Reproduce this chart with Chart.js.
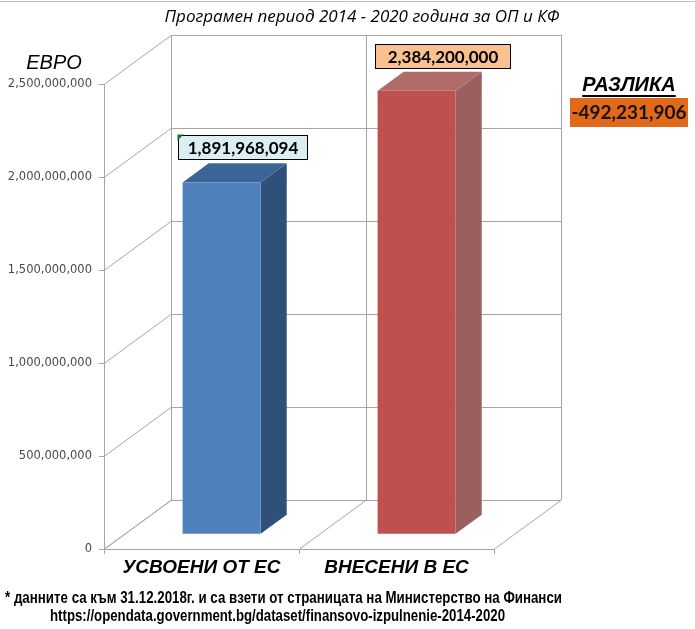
<!DOCTYPE html>
<html lang="bg">
<head>
<meta charset="UTF-8" />
<title>Програмен период 2014 - 2020</title>
<script src="https://cdn.jsdelivr.net/npm/chart.js"></script>
<style>
  body { margin: 0; background: #fff; }
  canvas { display: block; }
</style>
</head>
<body>
<canvas id="chart" width="695" height="629"></canvas>
<script>
// data
const categories = ['УСВОЕНИ ОТ ЕС', 'ВНЕСЕНИ В ЕС'];
const amounts = [1891968094, 2384200000];
const yTicks = [0, 500000000, 1000000000, 1500000000, 2000000000, 2500000000];

const title = 'Програмен период 2014 - 2020 година за ОП и КФ';
const unitLabel = 'ЕВРО';
const diffLabel = 'РАЗЛИКА';
const note1 = '* данните са към 31.12.2018г. и са взети от страницата на Министерство на Финанси';
const note2 = 'https://opendata.government.bg/dataset/finansovo-izpulnenie-2014-2020';

const faceColors = [
  { front: '#4f81bd', top: '#3d6497', side: '#2f5079', label: '#dbeef4' },
  { front: '#c0504d', top: '#b06b6b', side: '#9a5f5f', label: '#fac090' }
];
const gridColor = '#a6a6a6';

// 3d depth of the plot box (pixels) and where the bars sit inside it
const DX = 67, DY = -49;
const T0 = 0.3, T1 = 0.69;

function fmt(v) { return v.toLocaleString('en-US'); }

function line(ctx, x1, y1, x2, y2) {
  ctx.beginPath();
  ctx.moveTo(x1, y1);
  ctx.lineTo(x2, y2);
  ctx.stroke();
}

function poly(ctx, pts, fill) {
  ctx.beginPath();
  ctx.moveTo(pts[0][0], pts[0][1]);
  for (let i = 1; i < pts.length; i++) ctx.lineTo(pts[i][0], pts[i][1]);
  ctx.closePath();
  ctx.fillStyle = fill;
  ctx.fill();
}

// text squeezed to a given width (narrow font is not installed)
function narrowText(ctx, txt, x, y, w) {
  const tw = ctx.measureText(txt).width;
  ctx.save();
  ctx.translate(x, y);
  ctx.scale(w / tw, 1);
  ctx.textAlign = 'left';
  ctx.fillText(txt, 0, 0);
  ctx.restore();
}

const box3d = {
  id: 'box3d',
  beforeDatasetsDraw(chart) {
    const { ctx, chartArea: a, scales: { x, y } } = chart;
    ctx.save();
    ctx.strokeStyle = gridColor;
    ctx.lineWidth = 1;
    const topY = y.getPixelForValue(y.max);
    const botY = y.getPixelForValue(0);
    // side wall diagonals + back wall horizontals
    y.ticks.forEach(t => {
      const py = Math.round(y.getPixelForValue(t.value)) + 0.5;
      line(ctx, a.left, py, a.left + DX, py + DY);
      line(ctx, a.left + DX, py + DY, a.right + DX, py + DY);
    });
    // category boundaries on back wall and floor
    const bounds = [a.left];
    for (let i = 1; i < categories.length; i++) {
      bounds.push((x.getPixelForValue(i - 1) + x.getPixelForValue(i)) / 2);
    }
    bounds.push(a.right);
    bounds.forEach(b => {
      const bx = Math.round(b) + 0.5;
      line(ctx, bx + DX, topY + DY, bx + DX, botY + DY);
      line(ctx, bx, botY, bx + DX, botY + DY);
    });
    ctx.restore();
  },
  afterDatasetsDraw(chart) {
    const { ctx } = chart;
    const meta = chart.getDatasetMeta(0);
    ctx.save();
    meta.data.forEach((el, i) => {
      const p = el.getProps(['x', 'y', 'base', 'width'], true);
      const c = faceColors[i];
      const l = p.x - p.width / 2 + T0 * DX;
      const r = l + p.width;
      const t = p.y + T0 * DY;
      const b = p.base + T0 * DY;
      const dx = (T1 - T0) * DX, dy = (T1 - T0) * DY;
      poly(ctx, [[r, t], [r + dx, t + dy], [r + dx, b + dy], [r, b]], c.side);
      poly(ctx, [[l, t], [l + dx, t + dy], [r + dx, t + dy], [r, t]], c.top);
      poly(ctx, [[l, t], [r, t], [r, b], [l, b]], c.front);

      // value label box
      ctx.font = 'bold 17px Lato, "Open Sans", sans-serif';
      const txt = fmt(amounts[i]);
      const tw = ctx.measureText(txt).width;
      const bx = Math.round(l - 5 + i * 2) + 0.5;
      const bw = Math.round(tw + 18 + i * 6);
      const bh = 24;
      const by = Math.round(t + dy - 4 - bh) + 0.5;
      ctx.fillStyle = c.label;
      ctx.fillRect(bx, by, bw, bh);
      ctx.strokeStyle = '#000';
      ctx.lineWidth = 1;
      ctx.strokeRect(bx, by, bw, bh);
      if (i === 0) { // little green corner mark of the source sheet
        poly(ctx, [[bx - 1, by - 1], [bx + 5, by - 1], [bx - 1, by + 5]], '#1e6b2a');
      }
      ctx.fillStyle = '#000';
      ctx.textAlign = 'center';
      ctx.textBaseline = 'middle';
      ctx.fillText(txt, bx + bw / 2, by + bh / 2 + 1);
    });
    ctx.restore();
  },
  afterDraw(chart) {
    const { ctx } = chart;
    ctx.save();
    // frame line at the top
    ctx.strokeStyle = '#c0c0c0';
    line(ctx, 0, 1.5, 695, 1.5);

    ctx.fillStyle = '#000';
    ctx.textBaseline = 'middle';
    ctx.textAlign = 'center';
    ctx.font = 'italic 17px "Open Sans", "Liberation Sans", sans-serif';
    ctx.fillText(title, 362, 17);

    ctx.font = 'italic 20px "Liberation Sans", sans-serif';
    ctx.fillText(unitLabel, 54, 63);

    // difference between the two bars
    ctx.font = 'bold italic 20px "Liberation Sans", sans-serif';
    ctx.fillText(diffLabel, 629, 85);
    const dw = ctx.measureText(diffLabel).width;
    ctx.fillRect(629 - dw / 2, 95, dw, 2);

    ctx.fillStyle = '#e0691a';
    ctx.fillRect(570, 98, 118, 29);
    ctx.fillStyle = '#1a1208';
    ctx.font = 'bold 19px Lato, "Open Sans", sans-serif';
    ctx.fillText(fmt(amounts[0] - amounts[1]), 629, 113);

    // source note
    ctx.fillStyle = '#000';
    ctx.font = 'bold 16.5px "Liberation Sans", sans-serif';
    narrowText(ctx, note1, 5, 598, 557);
    narrowText(ctx, note2, 50, 616, 455);
    ctx.restore();
  }
};

new Chart(document.getElementById('chart'), {
  type: 'bar',
  data: {
    labels: categories,
    datasets: [{
      data: amounts,
      backgroundColor: 'rgba(0,0,0,0)',
      barPercentage: 0.4,
      categoryPercentage: 1
    }]
  },
  options: {
    responsive: false,
    animation: false,
    devicePixelRatio: 1,
    layout: { padding: { left: 0, top: 84, right: 201, bottom: 0 } },
    plugins: { legend: { display: false }, tooltip: { enabled: false }, title: { display: false } },
    scales: {
      y: {
        min: 0,
        max: 2500000000,
        afterFit(s) { s.width = 104; },
        afterBuildTicks(s) { s.ticks = yTicks.map(v => ({ value: v })); },
        ticks: {
          callback: v => fmt(v),
          color: '#4a4a4a',
          font: { family: 'DejaVu Sans', size: 11.5 },
          padding: 7
        },
        grid: { drawOnChartArea: false, tickLength: 5, color: gridColor },
        border: { display: true, color: gridColor }
      },
      x: {
        afterFit(s) { s.height = 80; },
        ticks: {
          color: '#000',
          font: { family: 'Liberation Sans', size: 19, style: 'italic', weight: 'bold' },
          padding: 2,
          maxRotation: 0
        },
        grid: { offset: true, drawOnChartArea: false, tickLength: 5, color: gridColor },
        border: { display: true, color: gridColor }
      }
    }
  },
  plugins: [box3d]
});
</script>
</body>
</html>
